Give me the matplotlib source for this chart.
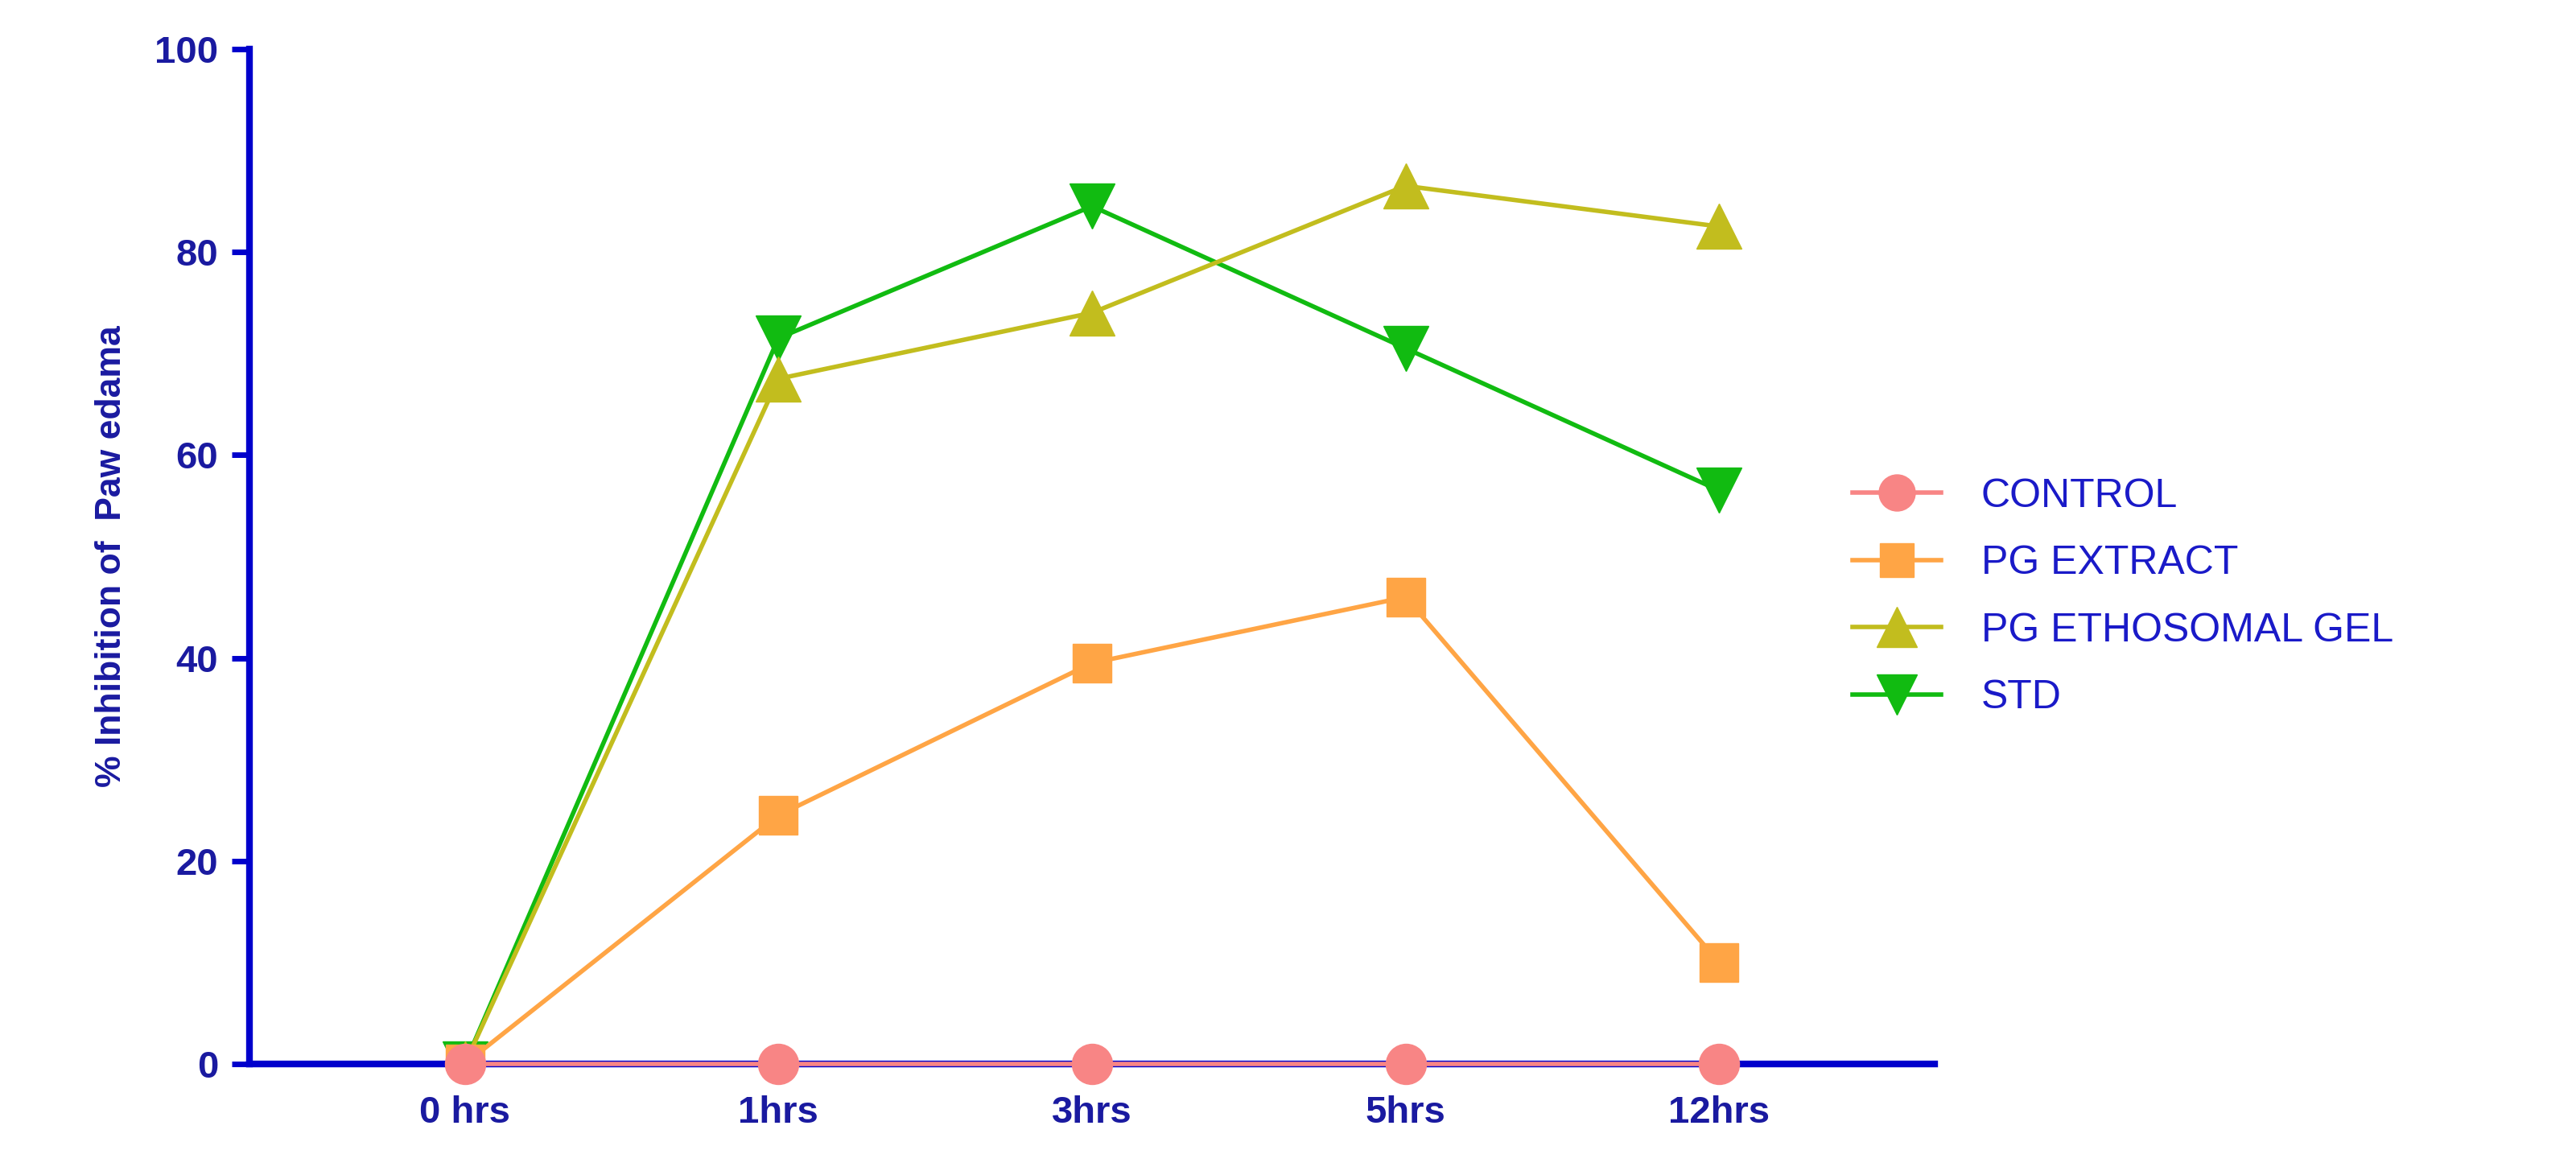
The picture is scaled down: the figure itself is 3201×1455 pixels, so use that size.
import matplotlib
matplotlib.use("Agg")
import matplotlib.pyplot as plt

plt.rcParams['font.family'] = ['Liberation Sans', 'DejaVu Sans']

categories = ["0 hrs", "1hrs", "3hrs", "5hrs", "12hrs"]
control = [0, 0, 0, 0, 0]
pg_extract = [0, 24.5, 39.5, 46, 10]
pg_etho = [0, 67.5, 74, 86.5, 82.5]
std = [0, 71.5, 84.5, 70.5, 56.5]

fig = plt.figure(figsize=(32.01, 14.55), dpi=100)
ax = fig.add_axes([0.0969, 0.0913, 0.654, 0.867])
x = list(range(len(categories)))
lw = 4
ms = 40
ax.plot(x, std, color="#11BB11", marker="v", ms=ms, lw=lw, label="STD", zorder=3)
ax.plot(x, pg_etho, color="#C2BD1E", marker="^", ms=ms, lw=lw, label="PG ETHOSOMAL GEL", zorder=4)
ax.plot(x, pg_extract, color="#FFA545", marker="s", ms=ms * 0.85, lw=lw, label="PG EXTRACT", zorder=5)
ax.plot(x, control, color="#F88585", marker="o", ms=ms * 0.9, lw=lw, label="CONTROL", zorder=6, clip_on=False)

ax.set_xlim(-0.686, 4.686)
ax.set_ylim(0, 100)
ax.set_yticks([0, 20, 40, 60, 80, 100])
ax.set_xticks(x)
ax.set_xticklabels(categories)
blue = "#0000CC"
txt = "#1A1AA0"
for s in ["top", "right"]:
    ax.spines[s].set_visible(False)
for s in ["left", "bottom"]:
    ax.spines[s].set_color(blue)
    ax.spines[s].set_linewidth(6)
ax.tick_params(colors=blue, width=5, length=16, labelsize=34, pad=12)
for t in ax.get_xticklabels() + ax.get_yticklabels():
    t.set_fontweight("bold")
    t.set_color(txt)
ax.set_ylabel("% Inhibition of  Paw edama", fontsize=32, fontweight="bold", color=txt, labelpad=24)

h, l = ax.get_legend_handles_labels()
order = [3, 2, 1, 0]
leg = fig.legend([h[i] for i in order], [l[i] for i in order], loc="center left",
                 bbox_to_anchor=(0.705, 0.49), frameon=False, fontsize=36,
                 markerscale=0.9, handlelength=2.2, labelspacing=0.75, handletextpad=1.0)
for t in leg.get_texts():
    t.set_color("#1A1AC8")
fig.savefig("out.png", dpi=100)
